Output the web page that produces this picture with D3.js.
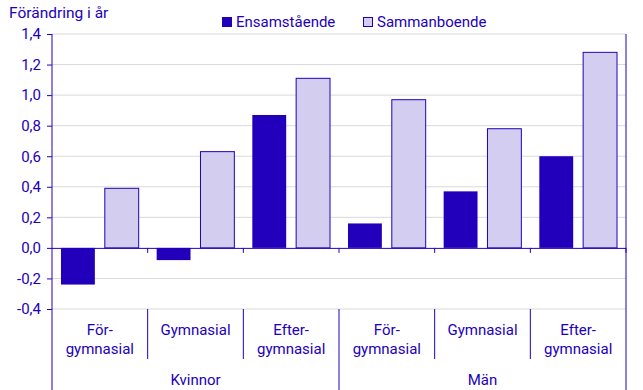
<!DOCTYPE html>
<html>
<head>
<meta charset="utf-8">
<style>
  body { margin: 0; background: #fff; }
  svg { display: block; font-family: Roboto, "Open Sans", sans-serif; }
</style>
</head>
<body>
<svg></svg>
<script src="https://d3js.org/d3.v7.min.js"></script>
<script>

let width = 643,
    height = 390;

// data
let groups = ["Kvinnor", "Män"];
let levels = ["För-\ngymnasial", "Gymnasial", "Efter-\ngymnasial"];
let series = ["Ensamstående", "Sammanboende"];
let ensamstaende = [-0.24, -0.08, 0.87, 0.16, 0.37, 0.60];
let sammanboende = [0.39, 0.63, 1.11, 0.97, 0.78, 1.28];
let yTicks = [-0.4, -0.2, 0, 0.2, 0.4, 0.6, 0.8, 1.0, 1.2, 1.4];

let blue = "#2200bb",
    light = "#d3cdf0",
    grid = "#d9d9d9",
    fs = "15px";

let margin = {left: 52, right: 17, top: 34, bottom: 81};

let svg = d3.select("svg")
    .attr("width", width)
    .attr("height", height);

let cats = [];
groups.forEach((g, gi) => levels.forEach((l, li) => cats.push({group: g, level: l, i: gi * 3 + li})));

let x = d3.scaleBand()
    .domain(cats.map(d => d.i))
    .range([margin.left, width - margin.right]);

let x1 = d3.scaleBand()
    .domain(series)
    .range([0, x.bandwidth()])
    .paddingInner(0.227)
    .paddingOuter(0.205);

let y = d3.scaleLinear()
    .domain([-0.4, 1.4])
    .range([height - margin.bottom, margin.top]);

// gridlines
svg.append("g")
  .selectAll("line")
  .data(yTicks.filter(d => d !== 0))
  .enter()
  .append("line")
    .attr("x1", margin.left)
    .attr("x2", width - margin.right)
    .attr("y1", d => y(d))
    .attr("y2", d => y(d))
    .attr("stroke", grid)
    .attr("stroke-width", 1);

// y axis
let yAxis = svg.append("g")
    .attr("transform", "translate(" + margin.left + ",0)")
    .call(d3.axisLeft(y).tickValues(yTicks).tickSize(5).tickPadding(6)
      .tickFormat(d => d3.format(".1f")(d).replace(".", ",").replace("−", "-")));
yAxis.select(".domain").remove();
yAxis.selectAll("line").attr("stroke", blue);
yAxis.selectAll("text")
    .attr("fill", blue)
    .style("font-size", fs)
    .style("font-family", "Roboto, sans-serif");

// bars
let rows = cats.map(c => ({i: c.i, vals: [ensamstaende[c.i], sammanboende[c.i]]}));

svg.append("g")
  .selectAll("g")
  .data(rows)
  .enter()
  .append("g")
    .attr("transform", d => "translate(" + x(d.i) + ",0)")
  .selectAll("rect")
  .data(d => d.vals.map((v, k) => ({key: series[k], v: v})))
  .enter()
  .append("rect")
    .attr("x", d => x1(d.key))
    .attr("width", x1.bandwidth())
    .attr("y", d => y(Math.max(0, d.v)))
    .attr("height", d => Math.abs(y(d.v) - y(0)))
    .attr("fill", d => d.key === series[0] ? blue : light)
    .attr("stroke", blue)
    .attr("stroke-width", d => d.key === series[0] ? 0 : 1);

// zero line with ticks
svg.append("line")
    .attr("x1", margin.left)
    .attr("x2", width - margin.right)
    .attr("y1", y(0) + 0.5)
    .attr("y2", y(0) + 0.5)
    .attr("stroke", blue);

svg.append("g")
  .selectAll("line")
  .data(cats)
  .enter()
  .append("line")
    .attr("x1", d => x(d.i) + x.bandwidth())
    .attr("x2", d => x(d.i) + x.bandwidth())
    .attr("y1", y(0))
    .attr("y2", y(0) + 5)
    .attr("stroke", blue);

// left and right axis lines
[margin.left, width - margin.right].forEach(xx => {
  svg.append("line")
      .attr("x1", xx).attr("x2", xx)
      .attr("y1", margin.top).attr("y2", height)
      .attr("stroke", blue);
});

// category separators below plot
let yb = y(-0.4);
svg.append("g")
  .selectAll("line")
  .data(cats.slice(0, -1))
  .enter()
  .append("line")
    .attr("x1", d => x(d.i) + x.bandwidth())
    .attr("x2", d => x(d.i) + x.bandwidth())
    .attr("y1", yb)
    .attr("y2", d => (d.i % 3 === 2) ? height : yb + 50)
    .attr("stroke", blue);

// category labels
let lab = svg.append("g")
  .selectAll("text")
  .data(cats)
  .enter()
  .append("text")
    .attr("x", d => x(d.i) + x.bandwidth() / 2)
    .attr("text-anchor", "middle")
    .attr("fill", blue)
    .style("font-size", fs);
lab.each(function(d) {
  let parts = d.level.split("\n");
  let t = d3.select(this);
  parts.forEach((p, k) => {
    t.append("tspan")
      .attr("x", x(d.i) + x.bandwidth() / 2)
      .attr("y", yb + 26 + k * 19)
      .text(p);
  });
});

// group labels
svg.append("g")
  .selectAll("text")
  .data(groups)
  .enter()
  .append("text")
    .attr("x", (d, gi) => (x(gi * 3) + x(gi * 3 + 2) + x.bandwidth()) / 2)
    .attr("y", 385)
    .attr("text-anchor", "middle")
    .attr("fill", blue)
    .style("font-size", fs)
    .text(d => d);

// title
svg.append("text")
    .attr("x", 9)
    .attr("y", 18)
    .attr("fill", blue)
    .style("font-size", "15.5px")
    .text("Förändring i år");

// legend
let legX = [222, 363];
let leg = svg.append("g")
  .selectAll("g")
  .data(series)
  .enter()
  .append("g")
    .attr("transform", (d, k) => "translate(" + legX[k] + ",17)");
leg.append("rect")
    .attr("x", 0.5)
    .attr("y", 0.5)
    .attr("width", 9)
    .attr("height", 9)
    .attr("fill", (d, k) => k === 0 ? blue : light)
    .attr("stroke", blue);
leg.append("text")
    .attr("x", 14)
    .attr("y", 10)
    .attr("fill", blue)
    .style("font-size", fs)
    .text(d => d);

</script>
</body>
</html>
